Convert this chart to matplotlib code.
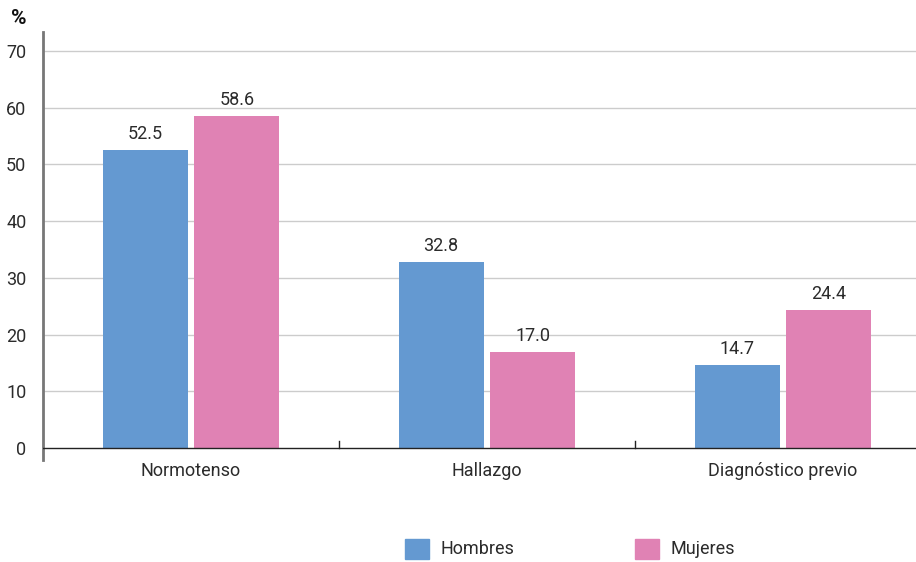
import numpy as np
import matplotlib.pyplot as plt
from matplotlib.patches import Rectangle

plt.rcParams['font.family'] = ['Roboto', 'DejaVu Sans']

categories = ['Normotenso', 'Hallazgo', 'Diagnóstico previo']
hombres = [52.5, 32.8, 14.7]
mujeres = [58.6, 17.0, 24.4]
series_names = ['Hombres', 'Mujeres']
yticks = [0, 10, 20, 30, 40, 50, 60, 70]

blue = '#6499D1'
pink = '#E082B4'
txt = '#2b2b2b'
fs = 13

fig = plt.figure(figsize=(9.16, 5.62), dpi=100)
ax = fig.add_axes([43 / 916, 1 - 460 / 562, (916 - 43) / 916, (460 - 32) / 562])

x = np.arange(len(categories))
w = 0.287
off = 0.155
b1 = ax.bar(x - off, hombres, w, color=blue, zorder=3)
b2 = ax.bar(x + off, mujeres, w, color=pink, zorder=3)

for bars, vals in ((b1, hombres), (b2, mujeres)):
    for b, v in zip(bars, vals):
        ax.text(b.get_x() + b.get_width() / 2, v + 1.2, f'{v:.1f}',
                ha='center', va='bottom', fontsize=fs, color=txt)

ax.set_xlim(-0.5, -0.5 + 873 / 296)
ax.set_ylim(-2.1, 73.35)
ax.set_yticks(yticks)
ax.set_yticklabels([str(t) for t in yticks], fontsize=fs, color=txt)
ax.tick_params(axis='y', length=0, pad=12)
ax.set_xticks([])
for t in yticks[1:]:
    ax.axhline(t, color='#cccccc', lw=1, zorder=1)
ax.axhline(0, color='#222222', lw=1, zorder=4)

# separators between the groups
for xs in [0.5, 1.5]:
    ax.plot([xs, xs], [0, 1.3], color='#222222', lw=1, zorder=4)

for xi, c in zip(x, categories):
    ax.text(xi, -2.4, c, ha='center', va='top', fontsize=fs, color=txt)

for s in ['top', 'right', 'bottom']:
    ax.spines[s].set_visible(False)
ax.spines['left'].set_color('#777777')
ax.spines['left'].set_linewidth(2)

fig.text(11 / 916, 1 - 24 / 562, '%', fontsize=15, fontweight='bold', color='#111111')

# legend
for xp, col, name in [(405, blue, series_names[0]), (635, pink, series_names[1])]:
    fig.patches.append(Rectangle((xp / 916, 1 - 559 / 562), 24 / 916, 20 / 562,
                                 transform=fig.transFigure, color=col))
    fig.text((xp + 36) / 916, 1 - 549 / 562, name, fontsize=fs, color=txt, va='center')

fig.savefig('out.png', dpi=100)
